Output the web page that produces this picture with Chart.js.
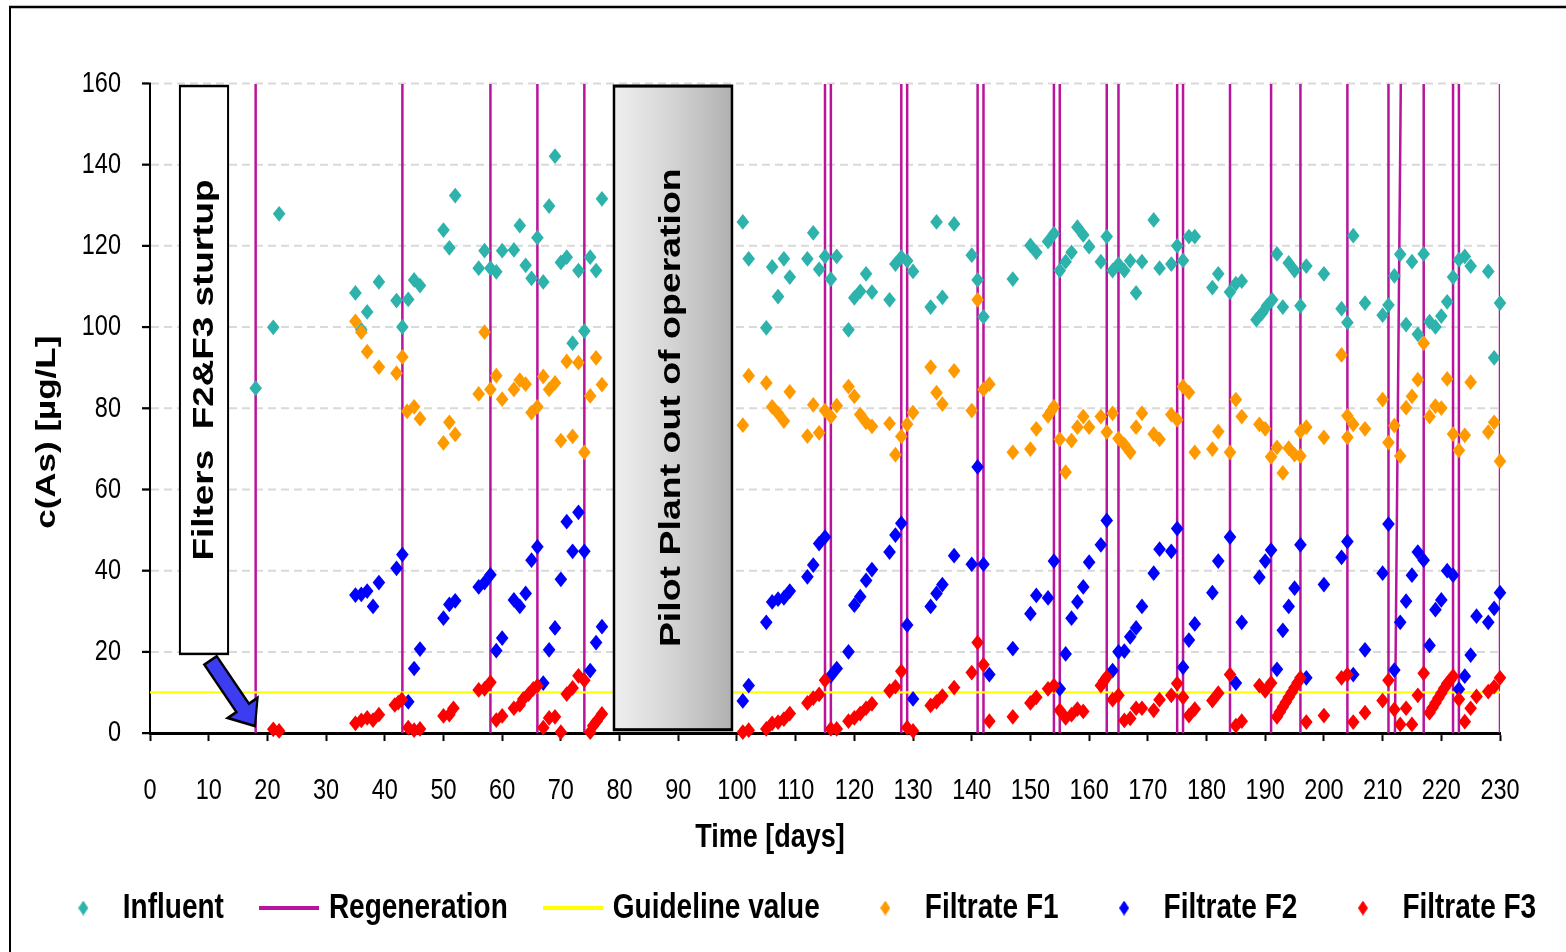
<!DOCTYPE html>
<html>
<head>
<meta charset="utf-8">
<script src="https://cdn.jsdelivr.net/npm/chart.js@4/dist/chart.umd.min.js"></script>
<style>
  html, body { margin: 0; padding: 0; background: #ffffff; }
  canvas { display: block; }
</style>
</head>
<body>
<canvas id="chart" width="1566" height="762" style="width:1566px;height:952px"></canvas>
<script>
// ---- axis ranges ----
const xMin = 0, xMax = 230, xStep = 10;
const yMin = 0, yMax = 160, yStep = 20;
const guidelineValue = 10;

// ---- Influent ----
const influentDays = [18,21,22,35,36,37,39,42,43,44,45,46,50,51,52,56,57,58,59,60,62,63,64,65,66,67,68,69,70,71,72,73,74,75,76,77,
  101,102,105,106,107,108,109,112,113,114,115,116,117,119,120,121,122,123,126,127,128,129,130,133,134,135,137,
  140,141,142,147,150,151,153,154,155,156,157,158,159,160,162,163,164,165,166,167,168,169,171,172,174,175,176,177,178,
  181,182,184,185,186,188.5,189.5,190.3,191.2,192,193,194,195,196,197,200,203,204,205,207,210,211,212,213,214,215,216,
  217,218,219,220,221,222,223,224,225,228,229,230];
const influentValues = [85,100,128,108.5,99.4,103.8,111.2,106.6,100.1,106.9,111.7,110.3,124,119.6,132.5,114.6,118.9,114.6,113.7,118.9,119.1,125.1,115.3,112.1,122.1,111.2,129.9,142.2,116,117.3,96.1,114,99.1,117.3,114,131.7,
  126,116.9,99.9,114.9,107.6,116.9,112.4,116.9,123.3,114.3,117.5,111.9,117.5,99.4,107.3,108.9,113.2,108.7,106.8,115.6,117.3,116.4,113.8,105,126,107.4,125.5,
  117.8,111.7,102.6,111.9,120.2,118.5,121.2,123.1,114,116.2,118.5,124.7,122.8,119.9,116.2,122.4,114,115.6,114,116.4,108.5,116.2,126.5,114.6,115.6,120.1,116.5,122.4,122.4,
  109.8,113.2,108.7,110.8,111.4,101.9,103.6,105.3,106.8,118.1,105,115.9,114,105.3,115.1,113.2,104.6,101.2,122.6,106,103,105.5,112.7,118,100.7,116.2,98.3,
  118.1,101.4,100.1,102.8,106.3,112.4,116.7,117.5,115.1,113.8,92.5,106];

// ---- Filtrate F1 ----
const f1Days = [35,36,37,39,42,43,43.8,45,46,50,51,52,56,57,58,59,60,62,63,64,65,66,67,68,69,70,71,72,73,74,75,76,77,
  101,102,105,106,107,108,109,112,113,114,115,116,117,119,120,121,122,123,126,127,128,129,130,133,134,135,137,
  140,141,142,143,147,150,151,153,153.5,154,155,156,157,158,159,160,162,163,164,165,166,167,168,169,171,172,174,175,176,177,178,
  181,182,184,185,186,189,190,191,192,193,194,195,196,196,197,200,203,204,204,205,207,210,211,212,213,214,215,216,
  217,218,219,220,221,222,223,224,225,228,229,230];
const f1Values = [101.5,98.8,94,90.2,88.7,92.7,79.3,80.4,77.5,71.5,76.6,73.6,83.6,98.8,84.7,88.1,82.3,84.7,87,86,79,80.4,87.9,84.7,86.3,72.1,91.6,73.1,91.3,69.2,83.1,92.5,85.9,
  75.9,88.1,86.3,80.4,78.8,76.9,84.1,73.2,80.9,74,79.5,78,80.7,85.4,83,78.5,76.6,75.6,76.3,68.6,73.1,76.1,79,90.2,83.9,81.1,89.3,
  79.5,106.8,84.7,86,69.2,70,75,78.2,79.3,80.4,72.4,64.3,72.1,75.4,78,75.4,78,74.2,78.8,72.6,71.1,69.2,75.4,78.8,73.7,72.4,78.5,77.2,85.4,84,69.2,
  70,74.3,69.2,82.2,78,76.1,75,68.1,70.4,64.1,70.2,68.6,68.3,74.3,75.4,72.9,93.2,78.2,72.9,76.1,75,82.2,71.6,75.8,68.3,80.2,83,87.1,
  96.1,78,80.6,80.1,87.3,73.7,69.7,73.4,86.5,74.2,76.6,67];

// ---- Filtrate F2 ----
const f2Days = [35,36,37,38,39,42,43,44,45,46,50,51,52,56,57,58,59,60,62,63,64,65,66,67,68,69,70,71,72,73,74,75,76,77,
  101,102,105,106,107,108,109,112,113,114,115,116,117,119,120,121,122,123,126,127,128,129,130,133,134,135,137,
  140,141,142,143,147,150,151,153,154,155,156,157,158,159,160,162,163,164,165,166,167,168,169,171,172,174,175,176,177,178,
  181,182,184,185,186,189,190,191,192,193,194,195,196,197,200,203,204,205,207,210,211,212,213,214,215,216,
  217,218,219,220,221,222,223,224,225,226,228,229,230];
const f2Values = [34,34.2,35,31.2,37.1,40.6,44,7.7,15.9,20.7,28.3,31.7,32.6,36,37.1,39,20.3,23.4,32.8,31.2,34.4,42.6,45.9,12.3,20.5,25.9,37.9,52.1,44.8,54.4,44.8,15.4,22.3,26.2,
  7.9,11.7,27.3,32.3,33,33.3,35,38.5,41.4,46.7,48.3,14.1,15.9,20,31.5,33.6,37.6,40.3,44.6,48.8,51.7,26.6,8.4,31.2,34.4,36.6,43.7,
  41.6,65.6,41.6,14.4,20.8,29.4,33.9,33.3,42.4,10.9,19.5,28.3,32.3,36,42.1,46.4,52.4,15.4,20,20.2,23.7,25.9,31.2,39.4,45.3,44.8,50.4,16.2,22.9,26.9,
  34.6,42.4,48.3,12.3,27.3,38.4,42.4,45.1,15.7,25.3,31.2,35.7,46.4,13.6,36.6,43.3,47.2,14.4,20.5,39.4,51.5,15.5,27.3,32.5,38.9,44.6,
  42.6,21.6,30.4,32.8,40,38.9,10.8,14,19.2,28.8,27.3,30.7,34.6];

// ---- Filtrate F3 ----
const f3Days = [21,22,35,36,37,38,39,41.7,42.3,42.9,44,45,46,50,51,51.7,56,57,58,59,60,62,63,63.6,64.5,65.3,66,67,68,69,70,71,72,73,74,75,75.5,76.1,77,
  101,102,105,106,107,108,109,112,113,114,115,116,117,119,120,121,122,123,126,127,128,129,130,133,134,135,137,
  140,141,142,143,147,150,151,153,154,155,156,157,158,159,162,162.5,163,164,165,166,167,168,169,171,172,174,175,176,177,178,
  181,182,184,185,186,189,190,191,192,192.5,193,193.5,194,194.5,195,195.5,196,197,200,203,204,205,207,210,211,212,213,214,215,216,
  217,218,218.5,219,219.5,220,220.5,221,221.5,222,223,224,225,226,228,229,230];
const f3Values = [0.9,0.5,2.4,3.1,3.7,3.2,4.5,6.9,7.5,8.2,1.3,0.7,1,4.2,4.5,6.1,10.6,10.9,12.5,3.2,4.2,6.1,6.9,8.4,9.6,10.9,11.6,1.3,3.7,4,0.2,9.6,11.1,14.1,13,0.2,1.8,2.9,4.7,
  0.2,0.7,1,2.4,2.7,3.4,4.8,7.4,8.6,9.5,13,1,1,2.9,3.7,4.8,6.1,7.2,10.4,11.4,15.2,1.3,0.5,6.8,7.7,9.1,11.2,
  14.9,22.3,16.8,2.9,4,7.4,8.8,10.9,11.7,5.6,3.7,4.5,5.9,5.3,11.7,12.8,13.8,8.2,9.3,3.1,3.6,6.1,6.1,5.6,8.2,9.3,12.2,8.8,4.3,5.9,
  8,9.8,14.4,1.8,2.9,11.7,10.4,12.3,4,5.2,6.4,7.6,8.8,10,11.2,12.4,13.6,2.7,4.3,13.6,14.4,2.7,5,8,13,5.8,2.1,6.1,2.1,9.3,
  14.7,5,6.2,7.4,8.6,9.8,11,12.2,13,14,8.3,2.8,6.1,9,10.2,11.4,13.6];

// ---- regeneration events (day at the axis, day at the top of the plot) ----
const regenBottom = [18,43,58,66,74,115,116,128,129,141,142,154,155,163,165,175,176,184,191,196,204,211,212.1,217,222,223,230];
const regenTop    = [18,43,58,66,74,115,116,128,129,141,142,154,155,163,165,175,176,184,191,196,204,211,213.1,217,222,223,230];

// ---- colours ----
const cInfluent = '#2db3ab';
const cRegen = '#b8149c';
const cGuide = '#ffff00';
const cF1 = '#ff9900';
const cF2 = '#0000ff';
const cF3 = '#ff0000';

const sans = "'Liberation Sans', Arial, sans-serif";

// the page is drawn in a 1566 x 762 layout space and stretched to 952 px tall
const CANVAS_H = 952;
const LAYOUT_H = 762;
const STRETCH = CANVAS_H / LAYOUT_H;

function toPoints(days, vals) {
  return days.map((d, i) => ({ x: d, y: vals[i] }));
}

function regenPoints() {
  const pts = [];
  regenBottom.forEach((d, i) => {
    pts.push({ x: d, y: yMin });
    pts.push({ x: regenTop[i], y: yMax });
    pts.push({ x: d, y: null });
  });
  return pts;
}

// legend sprites
function diamond(color, w, h) {
  const c = document.createElement('canvas');
  c.width = w; c.height = h;
  const g = c.getContext('2d');
  g.fillStyle = color;
  g.beginPath();
  g.moveTo(w / 2, 0);
  g.lineTo(w, h / 2);
  g.lineTo(w / 2, h);
  g.lineTo(0, h / 2);
  g.closePath();
  g.fill();
  return c;
}
function lineSwatch(color, w, h) {
  const c = document.createElement('canvas');
  c.width = w; c.height = h;
  const g = c.getContext('2d');
  g.fillStyle = color;
  g.fillRect(0, 0, w, h);
  return c;
}

const legendSprites = [
  diamond(cInfluent, 10, 12),
  lineSwatch(cRegen, 60, 3),
  lineSwatch(cGuide, 60, 3),
  diamond(cF1, 10, 12),
  diamond(cF2, 10, 12),
  diamond(cF3, 10, 12)
];

function pointSet(label, days, vals, color, order) {
  return {
    label, data: toPoints(days, vals),
    pointStyle: 'rectRot', pointRadius: 6.3, pointHoverRadius: 6.3,
    backgroundColor: color, borderColor: color, borderWidth: 0,
    showLine: false, clip: false, order
  };
}

const datasets = [
  pointSet('Influent', influentDays, influentValues, cInfluent, 3),
  {
    label: 'Regeneration', data: regenPoints(), showLine: true, spanGaps: false,
    borderColor: cRegen, borderWidth: 2.5, pointRadius: 0, pointHoverRadius: 0, order: 5
  },
  {
    label: 'Guideline value', data: [{ x: xMin, y: guidelineValue }, { x: xMax, y: guidelineValue }],
    showLine: true, borderColor: cGuide, borderWidth: 1.8, pointRadius: 0, pointHoverRadius: 0, order: 4
  },
  pointSet('Filtrate F1', f1Days, f1Values, cF1, 2),
  pointSet('Filtrate F2', f2Days, f2Values, cF2, 1),
  pointSet('Filtrate F3', f3Days, f3Values, cF3, 0)
];

// white page, outer frame and the vertical stretch of the whole drawing
const framePlugin = {
  id: 'frame',
  beforeDraw(chart) {
    const ctx = chart.ctx;
    ctx.save();
    ctx.setTransform(1, 0, 0, STRETCH, 0, 0);
    ctx.fillStyle = '#ffffff';
    ctx.fillRect(0, 0, chart.width, chart.height);
    ctx.save();
    ctx.strokeStyle = '#000000';
    ctx.lineWidth = 2;
    ctx.strokeRect(10, 7 / STRETCH, chart.width + 40, chart.height + 40);
    ctx.restore();
  },
  afterDraw(chart) {
    chart.ctx.restore();
  }
};

function verticalText(ctx, text, cx, cy, font) {
  ctx.save();
  ctx.translate(cx, cy);
  ctx.rotate(-Math.PI / 2);
  ctx.font = font;
  ctx.textAlign = 'center';
  ctx.textBaseline = 'middle';
  ctx.fillStyle = '#000000';
  ctx.fillText(text, 0, 0);
  ctx.restore();
}

// boxes, arrow and axis titles
const notesPlugin = {
  id: 'notes',
  afterDatasetsDraw(chart) {
    const ctx = chart.ctx;
    const xs = chart.scales.x, ys = chart.scales.y;
    const X = v => xs.getPixelForValue(v);
    const Y = v => ys.getPixelForValue(v);
    const area = chart.chartArea;

    // start-up box
    ctx.save();
    let l = X(5.1), r = X(13.3), t = Y(159.5), b = Y(19.5);
    ctx.fillStyle = '#ffffff';
    ctx.fillRect(l, t, r - l, b - t);
    ctx.strokeStyle = '#000000';
    ctx.lineWidth = 2;
    ctx.strokeRect(l, t, r - l, b - t);
    verticalText(ctx, 'Filters  F2&F3 sturtup', (l + r) / 2 + 1, Y(89.5), 'bold 29.5px ' + sans);

    // arrow to the start of filters F2 & F3, shaped in screen proportions
    const tx = X(10.31), ty = Y(17.9) * STRETCH, px = X(17.89), py = Y(1.7) * STRETCH;
    const len = Math.hypot(px - tx, py - ty);
    const ux = (px - tx) / len, uy = (py - ty) / len;
    const nx = -uy, ny = ux;
    const hw = 7.5, hh = 18, hl = 22;
    const hx = px - ux * hl, hy = py - uy * hl;
    const pts = [
      [tx + nx * hw, ty + ny * hw], [hx + nx * hw, hy + ny * hw], [hx + nx * hh, hy + ny * hh],
      [px, py], [hx - nx * hh, hy - ny * hh], [hx - nx * hw, hy - ny * hw], [tx - nx * hw, ty - ny * hw]
    ];
    ctx.beginPath();
    pts.forEach((p, i) => i ? ctx.lineTo(p[0], p[1] / STRETCH) : ctx.moveTo(p[0], p[1] / STRETCH));
    ctx.closePath();
    ctx.fillStyle = '#3c3cf0';
    ctx.fill();
    ctx.lineWidth = 2.2;
    ctx.lineJoin = 'miter';
    ctx.strokeStyle = '#000000';
    ctx.stroke();

    // shutdown period box
    l = X(79.05); r = X(99.15); t = Y(159.5); b = Y(0.8);
    const grad = ctx.createLinearGradient(l, 0, r, 0);
    grad.addColorStop(0, '#efefef');
    grad.addColorStop(0.5, '#d4d4d4');
    grad.addColorStop(1, '#b0b0b0');
    ctx.fillStyle = grad;
    ctx.fillRect(l, t, r - l, b - t);
    ctx.lineWidth = 2.5;
    ctx.strokeRect(l, t, r - l, b - t);
    verticalText(ctx, 'Pilot Plant out of operation', (l + r) / 2 - 1, Y(80.2), 'bold 30px ' + sans);

    // axis titles
    verticalText(ctx, 'c(As) [µg/L]', area.left - 103, (area.top + area.bottom) / 2 + 19, 'bold 28px ' + sans);
    ctx.font = 'bold 27px ' + sans;
    ctx.textAlign = 'center';
    ctx.textBaseline = 'middle';
    ctx.fillStyle = '#000000';
    ctx.fillText('Time [days]', (area.left + area.right) / 2 - 55, area.bottom + 84);
    ctx.restore();
  }
};

const canvas = document.getElementById('chart');
const chart = new Chart(canvas, {
  type: 'scatter',
  data: { datasets },
  plugins: [framePlugin, notesPlugin],
  options: {
    responsive: false,
    animation: false,
    devicePixelRatio: 1,
    events: [],
    // the legend row sits 14 px right of the page centre
    layout: { padding: { top: 84 / STRETCH, left: 14, right: -14, bottom: 11.2 } },
    scales: {
      x: {
        type: 'linear', min: xMin, max: xMax,
        afterFit(s) { s.height = 86.1; },
        ticks: {
          stepSize: xStep, autoSkip: false, maxRotation: 0, padding: 26,
          color: '#000000', font: { family: sans, size: 23.5 }
        },
        grid: { drawOnChartArea: false, drawTicks: true, tickLength: 6.4, tickColor: '#000000', tickWidth: 2 },
        border: { display: true, color: '#000000', width: 2.4 }
      },
      y: {
        type: 'linear', min: yMin, max: yMax,
        afterFit(s) { s.width = 136; },
        ticks: {
          stepSize: yStep, padding: 21,
          color: '#000000', font: { family: sans, size: 23.5 }
        },
        grid: {
          color: c => (c.tick && c.tick.value === yMin) ? 'rgba(0,0,0,0)' : '#d9d9d9',
          lineWidth: 1.6, tickLength: 8, tickColor: '#000000', tickWidth: 1.8
        },
        border: { display: true, color: '#000000', width: 2, dash: [8, 5] }
      },
      gutter: {
        type: 'linear', position: 'right', display: true,
        afterFit(s) { s.width = 80; },
        ticks: { display: false },
        grid: { display: false },
        border: { display: false }
      }
    },
    plugins: {
      tooltip: { enabled: false },
      legend: {
        position: 'bottom',
        labels: {
          usePointStyle: true,
          pointStyleWidth: 51,
          padding: 40,
          color: '#000000',
          font: { family: sans, size: 28, weight: 'bold' },
          generateLabels(ch) {
            return ch.data.datasets.map((ds, i) => ({
              text: ds.label,
              pointStyle: legendSprites[i],
              fillStyle: 'rgba(0,0,0,0)',
              strokeStyle: 'rgba(0,0,0,0)',
              lineWidth: 0,
              fontColor: '#000000',
              hidden: false,
              datasetIndex: i
            }));
          }
        }
      }
    }
  }
});

// give the canvas its full pixel height and draw the stretched page into it
canvas.height = CANVAS_H;
chart.draw();
</script>
</body>
</html>
